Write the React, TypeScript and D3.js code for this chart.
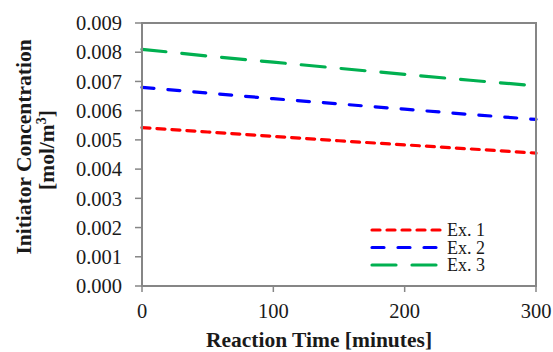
import React from "react";
import * as d3 from "d3";

const times = [0, 50, 100, 150, 200, 250, 300];
const ex1 = [0.00542, 0.00527, 0.00512, 0.00497, 0.00483, 0.00469, 0.00455];
const ex2 = [0.0068, 0.0066, 0.00641, 0.00623, 0.00605, 0.00587, 0.0057];
const ex3 = [0.0081, 0.00787, 0.00766, 0.00745, 0.00724, 0.00704, 0.00685];
const seriesNames = ["Ex. 1", "Ex. 2", "Ex. 3"];
const yTicks = [0, 0.001, 0.002, 0.003, 0.004, 0.005, 0.006, 0.007, 0.008, 0.009];
const xTicks = [0, 100, 200, 300];

const W = 553, H = 352;
const L = 142, R = 536, T = 23, B = 286;

export default function App() {
  const x = d3.scaleLinear().domain([0, 300]).range([L, R]);
  const y = d3.scaleLinear().domain([0, 0.009]).range([B, T]);
  const series = [
    { name: seriesNames[0], vals: ex1, color: "#ff0000", dash: "8 7" },
    { name: seriesNames[1], vals: ex2, color: "#0000ff", dash: "12 14" },
    { name: seriesNames[2], vals: ex3, color: "#00b050", dash: "24 16" },
  ];
  const line = d3.line<number>().x((_, i) => x(times[i])).y((d) => y(d));
  const font = "'Liberation Serif', 'Times New Roman', serif";
  const axisColor = "#868686";
  const txt = "#1a1a1a";
  return (
    <svg width={W} height={H} style={{ position: "absolute", left: 0, top: 0 }} fontFamily={font}>
      <rect x={0} y={0} width={W} height={H} fill="#fff" />
      {series.map((s) => (
        <path key={s.name} d={line(s.vals) || ""} fill="none" stroke={s.color} strokeWidth={3.2}
          strokeDasharray={s.dash} strokeLinecap="round" />
      ))}
      <rect x={L} y={T} width={R - L} height={B - T} fill="none" stroke={axisColor} strokeWidth={2} />
      {yTicks.map((t) => (
        <g key={t}>
          <line x1={L - 7} x2={L} y1={y(t)} y2={y(t)} stroke={axisColor} strokeWidth={1.5} />
          <text x={122} y={y(t)} dy="0.35em" textAnchor="end" fontSize={20.5} fill={txt}>
            {d3.format(".3f")(t)}
          </text>
        </g>
      ))}
      {xTicks.map((t) => (
        <g key={t}>
          <line x1={x(t)} x2={x(t)} y1={B} y2={B + 6} stroke={axisColor} strokeWidth={1.5} />
          <text x={x(t)} y={318} textAnchor="middle" fontSize={20.5} fill={txt}>{t}</text>
        </g>
      ))}
      <text x={319} y={347} textAnchor="middle" fontSize={21.5} fontWeight="bold" fill={txt}>
        Reaction Time [minutes]
      </text>
      <text transform="translate(31,147) rotate(-90)" textAnchor="middle" fontSize={21.5} fontWeight="bold" fill={txt}>
        Initiator Concentration
      </text>
      <text transform="translate(54,150) rotate(-90)" textAnchor="middle" fontSize={21.5} fontWeight="bold" fill={txt}>
        [mol/m<tspan fontSize={14} dy="-8">3</tspan><tspan dy="8">]</tspan>
      </text>
      {series.map((s, i) => {
        const ly = 230 + i * 17.5;
        return (
          <g key={s.name}>
            <line x1={372} x2={440} y1={ly} y2={ly} stroke={s.color} strokeWidth={3.2}
              strokeDasharray={s.dash} strokeLinecap="round" />
            <text x={447} y={ly} dy="0.35em" fontSize={18} fill={txt}>{s.name}</text>
          </g>
        );
      })}
    </svg>
  );
}
